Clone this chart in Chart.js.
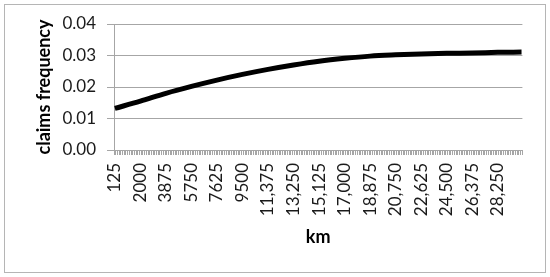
<!DOCTYPE html>
<html>
<head>
<meta charset="utf-8">
<script src="https://cdn.jsdelivr.net/npm/chart.js@4"></script>
<style>
  html, body { margin: 0; padding: 0; background: #fff; }
  #wrap { width: 550px; height: 277px; }
</style>
</head>
<body>
<div id="wrap"><canvas id="chart" width="550" height="277"></canvas></div>
<script>
// km categories on the axis: 125 .. 30000 every 125 km
const kmStep = 125;
const kmMax = 30000;
const kmCategories = [];
for (let k = kmStep; k <= kmMax; k += kmStep) kmCategories.push(String(k));

// values at the labelled km positions
const readKm = ['125', '2000', '3875', '5750', '7625', '9500', '11375', '13250', '15125',
  '17000', '18875', '20750', '22625', '24500', '26375', '28250', '30000'];
const claimsFreq = [0.0132, 0.0155, 0.0180, 0.0202, 0.0222, 0.0240, 0.0256, 0.0270, 0.0282,
  0.0291, 0.0298, 0.0302, 0.0305, 0.0307, 0.0308, 0.0310, 0.0311];

const yTicks = [0, 0.01, 0.02, 0.03, 0.04];
const labelEvery = 15;

const gridGray = '#a6a6a6';
const font = 'Lato';

const points = readKm.map((k, i) => ({ x: k, y: claimsFreq[i] }));

const frame = {
  id: 'frame',
  beforeDraw(chart) {
    const c = chart.ctx;
    c.save();
    c.fillStyle = '#fff';
    c.fillRect(0, 0, chart.width, chart.height);
    c.strokeStyle = '#b5b5b5';
    c.lineWidth = 1;
    c.strokeRect(4.5, 4.5, 541, 268);
    c.restore();
  }
};

new Chart(document.getElementById('chart'), {
  type: 'line',
  data: {
    labels: kmCategories,
    datasets: [{
      data: points,
      borderColor: '#000',
      borderWidth: 5,
      pointRadius: 0,
      cubicInterpolationMode: 'monotone',
      fill: false
    }]
  },
  options: {
    responsive: false,
    animation: false,
    layout: { padding: { left: 0, right: 27, top: 24, bottom: 0 } },
    plugins: { legend: { display: false }, tooltip: { enabled: false } },
    scales: {
      x: {
        type: 'category',
        offset: true,
        grid: { offset: true, drawOnChartArea: false, drawTicks: true, tickLength: 5, color: gridGray },
        border: { color: gridGray },
        ticks: {
          autoSkip: false,
          minRotation: 90,
          maxRotation: 90,
          padding: 8,
          color: '#1a1a1a',
          font: { family: font, size: 17 },
          callback: function (v, i) {
            if (i % labelEvery !== 0) return '';
            const n = Number(kmCategories[i]);
            return n >= 10000 ? n.toLocaleString('en-US') : String(n);
          }
        },
        title: {
          display: true, text: 'km', color: '#000',
          font: { family: font, size: 18, weight: 'bold' },
          padding: { top: 0, bottom: 29 }
        },
        afterFit(scale) { scale.height = 127; }
      },
      y: {
        min: 0,
        max: 0.04,
        grid: { color: gridGray, tickLength: 7 },
        border: { color: gridGray },
        afterBuildTicks(scale) { scale.ticks = yTicks.map(v => ({ value: v })); },
        ticks: {
          padding: 11,
          color: '#1a1a1a',
          font: { family: font, size: 17 },
          callback: v => v.toFixed(2)
        },
        title: {
          display: true, text: 'claims frequency', color: '#000',
          font: { family: font, size: 18, weight: 'bold' },
          padding: { top: 33, bottom: 0 }
        },
        afterFit(scale) { scale.width = 114; }
      }
    }
  },
  plugins: [frame]
});
</script>
</body>
</html>
